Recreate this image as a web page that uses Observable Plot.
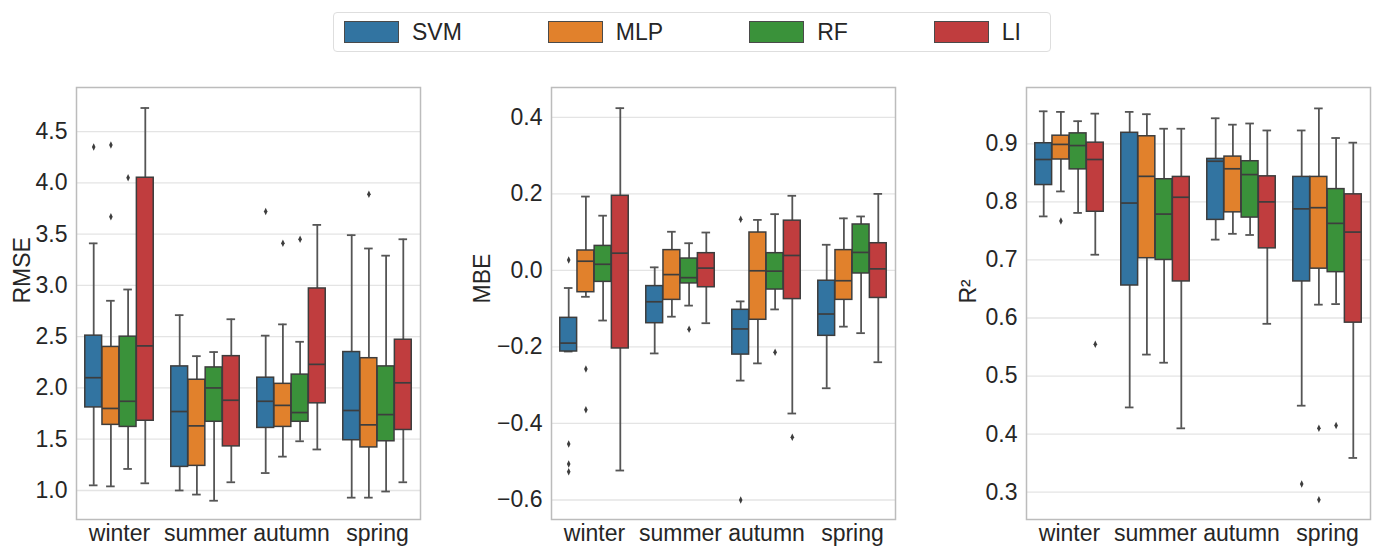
<!DOCTYPE html>
<html>
<head>
<meta charset="utf-8">
<script src="https://cdn.jsdelivr.net/npm/d3@7"></script>
<script src="https://cdn.jsdelivr.net/npm/@observablehq/plot@0.6"></script>
<style>
  html, body { margin: 0; padding: 0; background: #fff; }
  body { width: 1378px; height: 547px; position: relative; overflow: hidden;
         font-family: "Liberation Sans", Arial, sans-serif; color: #262626; }
  #legend { position: absolute; left: 333px; top: 12px; width: 718px; height: 40px;
            border: 1px solid #dedede; border-radius: 4px; box-sizing: border-box;
            display: flex; align-items: center; padding-left: 10px; gap: 86px; }
  .item { display: flex; align-items: center; font-size: 23px; }
  .sw { width: 55px; height: 22px; box-sizing: border-box; border: 1px solid #4a4a4a; margin-right: 13px; }
  .panel { position: absolute; top: 60px; }
  .panel svg { overflow: visible; }
</style>
</head>
<body>
<div id="legend"></div>
<div class="panel" id="p1" style="left:0px"></div>
<div class="panel" id="p2" style="left:460px"></div>
<div class="panel" id="p3" style="left:920px"></div>
<script>
// ---------- data ----------
const seasons = ["winter", "summer", "autumn", "spring"];
const models = ["SVM", "MLP", "RF", "LI"];
const colors = ["#3274a1", "#e1812c", "#3a923a", "#c03d3e"];

// [season, model, whiskerLow, Q1, median, Q3, whiskerHigh]
const rmseStats = [
  ["winter","SVM",1.05,1.81,2.10,2.51,3.41],
  ["winter","MLP",1.04,1.64,1.80,2.40,2.85],
  ["winter","RF",1.21,1.62,1.87,2.50,2.96],
  ["winter","LI",1.07,1.68,2.41,4.05,4.73],
  ["summer","SVM",1.00,1.23,1.77,2.21,2.71],
  ["summer","MLP",0.96,1.24,1.63,2.08,2.31],
  ["summer","RF",0.90,1.67,2.00,2.20,2.35],
  ["summer","LI",1.08,1.43,1.88,2.31,2.67],
  ["autumn","SVM",1.17,1.61,1.87,2.10,2.51],
  ["autumn","MLP",1.33,1.62,1.83,2.04,2.62],
  ["autumn","RF",1.48,1.67,1.76,2.13,2.45],
  ["autumn","LI",1.40,1.85,2.23,2.97,3.59],
  ["spring","SVM",0.93,1.49,1.78,2.35,3.49],
  ["spring","MLP",0.93,1.42,1.64,2.29,3.36],
  ["spring","RF",0.99,1.48,1.74,2.21,3.29],
  ["spring","LI",1.08,1.59,2.05,2.47,3.45]
];
const rmseOutliers = [
  ["winter","SVM",4.35],["winter","MLP",4.37],["winter","MLP",3.67],["winter","RF",4.05],
  ["autumn","SVM",3.72],["autumn","MLP",3.41],["autumn","RF",3.45],
  ["spring","MLP",3.89]
];

const mbeStats = [
  ["winter","SVM",-0.212,-0.212,-0.190,-0.124,-0.046],
  ["winter","MLP",-0.069,-0.057,0.024,0.052,0.193],
  ["winter","RF",-0.131,-0.030,0.016,0.064,0.143],
  ["winter","LI",-0.523,-0.204,0.045,0.195,0.424],
  ["summer","SVM",-0.217,-0.138,-0.082,-0.041,0.008],
  ["summer","MLP",-0.121,-0.077,-0.011,0.053,0.101],
  ["summer","RF",-0.092,-0.034,-0.019,0.031,0.071],
  ["summer","LI",-0.138,-0.044,0.006,0.045,0.099],
  ["autumn","SVM",-0.288,-0.220,-0.153,-0.103,-0.081],
  ["autumn","MLP",-0.243,-0.129,-0.001,0.099,0.132],
  ["autumn","RF",-0.102,-0.050,-0.002,0.045,0.147],
  ["autumn","LI",-0.374,-0.075,0.039,0.130,0.195],
  ["spring","SVM",-0.308,-0.171,-0.114,-0.027,0.067],
  ["spring","MLP",-0.147,-0.077,-0.027,0.053,0.136],
  ["spring","RF",-0.164,-0.008,0.047,0.120,0.141],
  ["spring","LI",-0.240,-0.072,0.004,0.071,0.200]
];
const mbeOutliers = [
  ["winter","SVM",0.027],["winter","SVM",-0.454],["winter","SVM",-0.506],["winter","SVM",-0.526],
  ["winter","MLP",-0.258],["winter","MLP",-0.364],
  ["summer","RF",-0.154],
  ["autumn","SVM",0.134],["autumn","SVM",-0.600],["autumn","RF",-0.214],["autumn","LI",-0.436]
];

const r2Stats = [
  ["winter","SVM",0.775,0.829,0.873,0.901,0.956],
  ["winter","MLP",0.818,0.873,0.899,0.914,0.955],
  ["winter","RF",0.781,0.856,0.897,0.918,0.939],
  ["winter","LI",0.709,0.783,0.873,0.902,0.952],
  ["summer","SVM",0.446,0.656,0.798,0.919,0.955],
  ["summer","MLP",0.537,0.703,0.844,0.913,0.951],
  ["summer","RF",0.523,0.700,0.779,0.839,0.926],
  ["summer","LI",0.410,0.663,0.808,0.843,0.926],
  ["autumn","SVM",0.735,0.769,0.870,0.874,0.944],
  ["autumn","MLP",0.745,0.782,0.857,0.878,0.933],
  ["autumn","RF",0.743,0.773,0.847,0.870,0.935],
  ["autumn","LI",0.590,0.720,0.800,0.844,0.923],
  ["spring","SVM",0.449,0.663,0.788,0.843,0.923],
  ["spring","MLP",0.623,0.685,0.790,0.843,0.961],
  ["spring","RF",0.624,0.679,0.763,0.822,0.910],
  ["spring","LI",0.359,0.592,0.748,0.813,0.902]
];
const r2Outliers = [
  ["winter","MLP",0.767],["winter","LI",0.555],
  ["spring","SVM",0.314],["spring","MLP",0.410],["spring","MLP",0.287],["spring","RF",0.415]
];

const rmseTicks = [1.0,1.5,2.0,2.5,3.0,3.5,4.0,4.5];
const mbeTicks = [-0.6,-0.4,-0.2,0.0,0.2,0.4];
const r2Ticks = [0.3,0.4,0.5,0.6,0.7,0.8,0.9];

// ---------- legend ----------
const legend = document.getElementById("legend");
models.forEach((m, i) => {
  const it = document.createElement("div");
  it.className = "item";
  const sw = document.createElement("div");
  sw.className = "sw";
  sw.style.background = colors[i];
  const tx = document.createElement("span");
  tx.textContent = m;
  it.appendChild(sw); it.appendChild(tx);
  legend.appendChild(it);
});

// ---------- panels ----------
const EDGE = "#3d3d3d";
const WHISK = "#555555";
const HALF = 0.098;   // half box width (seaborn: 0.8/4*0.98)
const CAP = 0.05;
const thinDiamond = {
  draw(ctx, size) {
    const r = Math.sqrt(size / Math.PI);
    ctx.moveTo(0, -r * 1.25);
    ctx.lineTo(r * 0.6, 0);
    ctx.lineTo(0, r * 1.25);
    ctx.lineTo(-r * 0.6, 0);
    ctx.closePath();
  }
};
const xpos = (s, m) => seasons.indexOf(s) + (models.indexOf(m) - 1.5) * 0.2;

function panel(stats, outliers, domain, ticks, label, ml, mr, labelDx, width) {
  const rows = stats.map(([s, m, lo, q1, med, q3, hi]) => ({s, m, lo, q1, med, q3, hi, xc: xpos(s, m)}));
  const outs = outliers.map(([s, m, v]) => ({s, m, v, xc: xpos(s, m)}));
  return Plot.plot({
    width, height: 487,
    marginLeft: ml, marginRight: mr, marginTop: 27, marginBottom: 28,
    style: {fontSize: "23px", fontFamily: "'Liberation Sans', Arial, sans-serif", color: "#262626", background: "transparent"},
    x: {domain: [-0.5, 3.5], ticks: [0, 1, 2, 3], tickFormat: i => seasons[i], tickSize: 0, tickPadding: 5, label: null},
    y: {domain, ticks, tickFormat: d3.format(".1f"), tickSize: 0, tickPadding: 9, label: null},
    color: {domain: models, range: colors},
    marks: [
      Plot.ruleY(ticks, {stroke: "#e4e4e4", strokeWidth: 1.3}),
      Plot.ruleX(rows, {x: "xc", y1: "lo", y2: "q1", stroke: WHISK, strokeWidth: 1.8}),
      Plot.ruleX(rows, {x: "xc", y1: "q3", y2: "hi", stroke: WHISK, strokeWidth: 1.8}),
      Plot.ruleY(rows, {y: "lo", x1: d => d.xc - CAP, x2: d => d.xc + CAP, stroke: WHISK, strokeWidth: 1.8}),
      Plot.ruleY(rows, {y: "hi", x1: d => d.xc - CAP, x2: d => d.xc + CAP, stroke: WHISK, strokeWidth: 1.8}),
      Plot.rectY(rows, {x1: d => d.xc - HALF, x2: d => d.xc + HALF, y1: "q1", y2: "q3", fill: "m", stroke: EDGE, strokeWidth: 1.5}),
      Plot.ruleY(rows, {y: "med", x1: d => d.xc - HALF, x2: d => d.xc + HALF, stroke: EDGE, strokeWidth: 1.7}),
      Plot.dot(outs, {x: "xc", y: "v", symbol: thinDiamond, r: 3, fill: EDGE, stroke: null}),
      Plot.frame({stroke: "#bcbcbc", strokeWidth: 1.5}),
      Plot.text([label], {frameAnchor: "left", dx: labelDx, rotate: -90, fontSize: 23, fill: "#262626"})
    ]
  });
}

document.getElementById("p1").appendChild(panel(rmseStats, rmseOutliers, [0.717, 4.93], rmseTicks, "RMSE", 76, 40, -54, 460));
document.getElementById("p2").appendChild(panel(mbeStats, mbeOutliers, [-0.651, 0.478], mbeTicks, "MBE", 91, 25, -69, 460));
document.getElementById("p3").appendChild(panel(r2Stats, r2Outliers, [0.253, 0.997], r2Ticks, "R²", 106, 8, -58, 458));
</script>
</body>
</html>
